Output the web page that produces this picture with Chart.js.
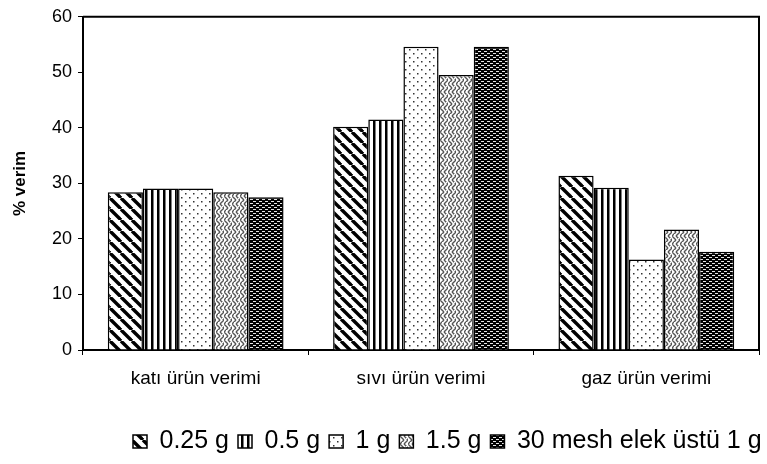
<!DOCTYPE html>
<html>
<head>
<meta charset="utf-8">
<script src="https://cdn.jsdelivr.net/npm/chart.js@4/dist/chart.umd.min.js"></script>
<style>
  html, body { margin: 0; padding: 0; background: #fff; }
  #wrap { width: 767px; height: 464px; }
</style>
</head>
<body>
<div id="wrap"><canvas id="chart"></canvas></div>
<script>
// kategori ve seri verileri
var categories = ['katı ürün verimi', 'sıvı ürün verimi', 'gaz ürün verimi'];
var seriesNames = ['0.25 g', '0.5 g', '1 g', '1.5 g', '30 mesh elek üstü 1 g'];
var v025 = [28.4, 40.2, 31.4];
var v05 = [29.1, 41.5, 29.2];
var v1 = [29.1, 54.6, 16.3];
var v15 = [28.4, 49.5, 21.7];
var vMesh = [27.5, 54.6, 17.7];
var yTicks = [0, 10, 20, 30, 40, 50, 60];

// desen yardımcı fonksiyonu
function makePattern(w, h, draw) {
    var c = document.createElement('canvas');
    c.width = w;
    c.height = h;
    var g = c.getContext('2d');
    g.fillStyle = '#fff';
    g.fillRect(0, 0, w, h);
    draw(g, w, h);
    return g.createPattern(c, 'repeat');
}

// kalın çapraz çizgiler
var diagPat = makePattern(11, 11, function(g, w, h) {
    g.strokeStyle = '#000';
    g.lineWidth = 3.4;
    [-11, 0, 11].forEach(function(o) {
        g.beginPath();
        g.moveTo(o, 0);
        g.lineTo(o + 11, 11);
        g.stroke();
    });
});

// dikey çizgiler
var vertPat = makePattern(6, 6, function(g, w, h) {
    g.fillStyle = '#000';
    g.fillRect(1, 0, 2.5, h);
});

// seyrek noktalar
var dotPat = makePattern(8, 8, function(g, w, h) {
    g.fillStyle = '#333';
    g.fillRect(1, 1, 1.5, 1.5);
    g.fillRect(5, 5, 1.5, 1.5);
});

// gri zikzak örgü
var weavePat = makePattern(8, 8, function(g, w, h) {
    g.strokeStyle = '#555';
    g.lineWidth = 1.4;
    g.beginPath();
    g.moveTo(0, 4); g.lineTo(4, 0);
    g.moveTo(4, 4); g.lineTo(8, 0);
    g.moveTo(0, 4); g.lineTo(4, 8);
    g.moveTo(4, 4); g.lineTo(8, 8);
    g.stroke();
    g.fillStyle = '#fff';
    g.fillRect(2, 2, 1, 1);
    g.fillRect(6, 6, 1, 1);
});

// koyu zemin üzerinde beyaz kısa çizgiler
var darkPat = makePattern(6, 4, function(g, w, h) {
    g.fillStyle = '#000';
    g.fillRect(0, 0, w, h);
    g.fillStyle = '#e6e6e6';
    g.fillRect(1, 1, 3, 1);
    g.fillRect(4, 3, 2, 1);
    g.fillRect(0, 3, 1, 1);
});

var allValues = [v025, v05, v1, v15, vMesh];
var patterns = [diagPat, vertPat, dotPat, weavePat, darkPat];

var datasets = seriesNames.map(function(name, i) {
    return {
        label: name,
        data: allValues[i],
        backgroundColor: patterns[i],
        borderColor: '#000',
        borderWidth: 1.5,
        barPercentage: 1.0,
        categoryPercentage: 0.78
    };
});

// grafik alanının üst ve sağ kenarı + lejant konumu
var framePlugin = {
    id: 'frame',
    afterLayout: function(chart) {
        var lg = chart.legend;
        if (lg) {
            var shift = 124 - lg.left;
            lg.left += shift;
            lg.right += shift;
        }
    },
    afterDatasetsDraw: function(chart) {
        var a = chart.chartArea;
        var ctx = chart.ctx;
        ctx.save();
        ctx.strokeStyle = '#000';
        ctx.lineWidth = 2;
        ctx.beginPath();
        ctx.moveTo(a.left, a.top);
        ctx.lineTo(a.right, a.top);
        ctx.lineTo(a.right, a.bottom);
        ctx.stroke();
        ctx.restore();
    }
};

Chart.defaults.font.family = '"Liberation Sans", Arial, sans-serif';
Chart.defaults.color = '#000';

var myChart = new Chart(document.getElementById('chart'), {
    type: 'bar',
    data: { labels: categories, datasets: datasets },
    plugins: [framePlugin],
    options: {
        responsive: true,
        maintainAspectRatio: false,
        animation: false,
        layout: { padding: { top: 12, right: 8, left: 0, bottom: 0 } },
        plugins: {
            tooltip: { enabled: false },
            legend: {
                position: 'bottom',
                align: 'start',
                labels: {
                    boxWidth: 14,
                    boxHeight: 13,
                    padding: 9,
                    font: { size: 25 },
                    color: '#000'
                }
            }
        },
        scales: {
            x: {
                border: { color: '#000', width: 2 },
                grid: { offset: true, drawOnChartArea: false, tickLength: 5, color: '#000' },
                ticks: { padding: 12, font: { size: 19 }, color: '#000' },
                afterFit: function(scale) { scale.height = 70; }
            },
            y: {
                min: 0,
                max: 60,
                border: { color: '#000', width: 2 },
                grid: { drawOnChartArea: false, tickLength: 5, color: '#000' },
                afterBuildTicks: function(scale) {
                    scale.ticks = yTicks.map(function(v) { return { value: v }; });
                },
                ticks: { padding: 6, font: { size: 18 }, color: '#000' },
                title: {
                    display: true,
                    text: '% verim',
                    font: { size: 17, weight: 'bold' },
                    padding: { top: 10, bottom: 0 }
                },
                afterFit: function(scale) { scale.width = 83; }
            }
        }
    }
});
</script>
</body>
</html>
